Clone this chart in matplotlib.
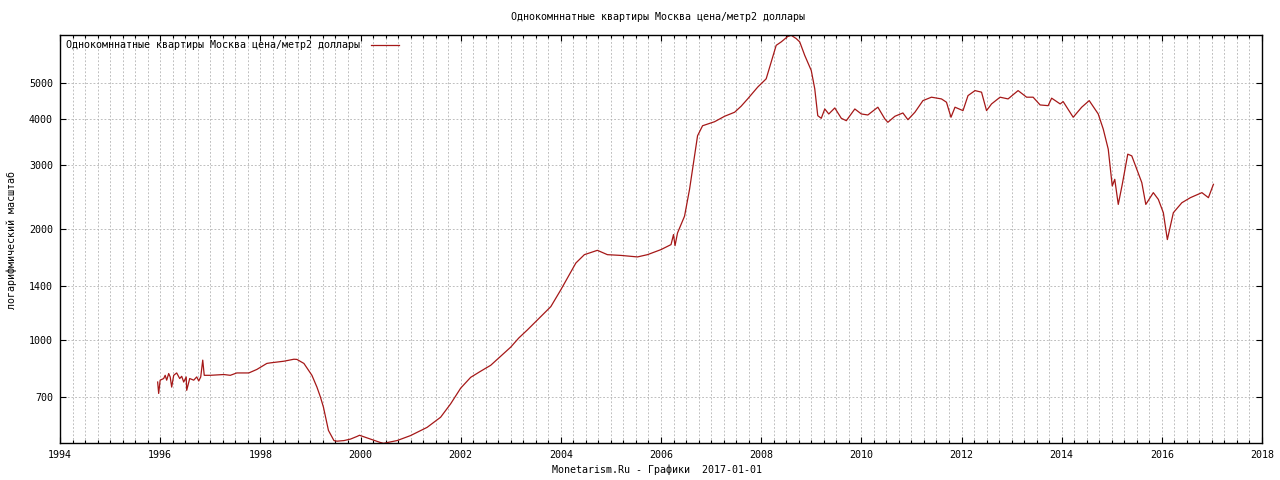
import matplotlib
matplotlib.use('Agg')
import numpy as np
import matplotlib.pyplot as plt
from matplotlib.ticker import FixedLocator, MultipleLocator, NullLocator, FixedFormatter

plt.rcParams['font.family'] = ['DejaVu Sans Mono']

title = "Однокомннатные квартиры Москва цена/метр2 доллары"
xlabel_txt = "Monetarism.Ru - Графики  2017-01-01"
ylabel_txt = "логарифмический масштаб"

# decimal year, price per m2 in USD
years = [1995.95, 1995.97, 1996.00, 1996.07, 1996.10, 1996.13, 1996.17, 1996.20, 1996.23, 1996.27,
         1996.33, 1996.39, 1996.43, 1996.47, 1996.52, 1996.53, 1996.59, 1996.67, 1996.73, 1996.77,
         1996.81, 1996.85, 1996.88, 1997.00, 1997.27, 1997.40, 1997.53, 1997.77, 1997.93, 1998.13,
         1998.20, 1998.47, 1998.67, 1998.73, 1998.87, 1999.03, 1999.13, 1999.20, 1999.26, 1999.36,
         1999.47, 1999.53, 1999.67, 1999.80, 1999.93, 1999.98, 2000.20, 2000.39, 2000.46, 2000.73,
         2001.00, 2001.33, 2001.60, 2001.80, 2002.00, 2002.20, 2002.40, 2002.60, 2002.80, 2003.00,
         2003.16, 2003.33, 2003.60, 2003.80, 2004.00, 2004.13, 2004.30, 2004.47, 2004.73, 2004.93,
         2005.20, 2005.53, 2005.73, 2006.00, 2006.20, 2006.25, 2006.28, 2006.33, 2006.47, 2006.57,
         2006.67, 2006.73, 2006.83, 2007.07, 2007.27, 2007.47, 2007.60, 2007.73, 2007.93, 2008.10,
         2008.20, 2008.30, 2008.40, 2008.53, 2008.60, 2008.70, 2008.77, 2008.87, 2009.00, 2009.07,
         2009.13, 2009.20, 2009.27, 2009.35, 2009.47, 2009.60, 2009.70, 2009.87, 2010.00, 2010.13,
         2010.33, 2010.47, 2010.53, 2010.67, 2010.83, 2010.93, 2011.07, 2011.23, 2011.40, 2011.60,
         2011.70, 2011.79, 2011.87, 2012.03, 2012.13, 2012.27, 2012.40, 2012.50, 2012.60, 2012.77,
         2012.93, 2013.13, 2013.30, 2013.43, 2013.57, 2013.73, 2013.80, 2013.97, 2014.03, 2014.23,
         2014.40, 2014.55, 2014.73, 2014.83, 2014.93, 2015.01, 2015.06, 2015.13, 2015.21, 2015.32,
         2015.40, 2015.50, 2015.60, 2015.68, 2015.83, 2015.93, 2016.03, 2016.11, 2016.23, 2016.40,
         2016.57, 2016.80, 2016.93, 2017.03]
price = [769, 716, 778, 786, 802, 778, 811, 794, 745, 802,
         814, 786, 797, 769, 794, 730, 786, 778, 794, 774,
         794, 882, 802, 802, 806, 802, 814, 814, 832, 864,
         867, 876, 887, 886, 864, 802, 745, 700, 657, 568,
         533, 531, 533, 538, 547, 551, 538, 527, 524, 533,
         550, 579, 617, 671, 740, 792, 823, 854, 904, 957,
         1013, 1065, 1158, 1233, 1370, 1474, 1620, 1707, 1754, 1707,
         1699, 1683, 1707, 1762, 1818, 1936, 1806, 1956, 2172, 2570,
         3168, 3594, 3826, 3924, 4060, 4164, 4324, 4526, 4872, 5133,
         5702, 6330, 6467, 6690, 6740, 6603, 6467, 5943, 5408, 4822,
         4075, 4009, 4250, 4119, 4277, 4009, 3949, 4250, 4119, 4093,
         4297, 3992, 3910, 4060, 4145, 3974, 4164, 4478, 4575, 4526,
         4433, 4035, 4297, 4206, 4621, 4768, 4721, 4206, 4386, 4575,
         4526, 4768, 4575, 4575, 4358, 4339, 4547, 4386, 4451, 4035,
         4297, 4478, 4119, 3748, 3304, 2624, 2736, 2338, 2651, 3203,
         3168, 2914, 2680, 2338, 2517, 2413, 2220, 1876, 2220, 2363,
         2439, 2517, 2439, 2651]

ytick_vals = [700, 1000, 1400, 2000, 3000, 4000, 5000]
xtick_vals = [1994, 1996, 1998, 2000, 2002, 2004, 2006, 2008, 2010, 2012, 2014, 2016, 2018]

fs = 7.2

fig = plt.figure(figsize=(12.8, 4.8), dpi=100)
ax = fig.add_axes([60/1280, 1 - 443.3/480, 1202/1280, 408.3/480])

ax.plot(years, price, color='#a51818', linewidth=0.9, label=title)

ax.set_yscale('log')
ax.set_xlim(1994, 2018)
ax.set_ylim(524, 6753)

ax.yaxis.set_major_locator(FixedLocator(ytick_vals))
ax.yaxis.set_major_formatter(FixedFormatter([str(v) for v in ytick_vals]))
ax.yaxis.set_minor_locator(NullLocator())
ax.xaxis.set_major_locator(FixedLocator(xtick_vals))
ax.xaxis.set_minor_locator(MultipleLocator(0.25))

ax.tick_params(which='both', direction='in', top=True, right=True, labelsize=fs,
               color='black', width=0.8)
ax.tick_params(which='major', length=4.5, pad=5)
ax.tick_params(which='minor', length=2.5)

grid_kw = dict(color='#b4b4b4', linestyle=(0, (2.2, 2.2)), linewidth=0.6)
ax.grid(which='major', axis='both', **grid_kw)
ax.grid(which='minor', axis='x', **grid_kw)
ax.set_axisbelow(True)

for s in ax.spines.values():
    s.set_linewidth(1.0)
    s.set_color('black')

ax.legend(loc='upper left', markerfirst=False, frameon=False, fontsize=fs,
          handlelength=2.8, handletextpad=1.1, borderaxespad=0.35, borderpad=0.2)

fig.text(658/1280, 1 - 17/480, title, ha='center', va='center', fontsize=fs)
fig.text(657/1280, 1 - 470/480, xlabel_txt, ha='center', va='center', fontsize=fs)
fig.text(12/1280, 1 - 240/480, ylabel_txt, ha='center', va='center', rotation=90, fontsize=fs)

fig.savefig('out.png', dpi=100)
